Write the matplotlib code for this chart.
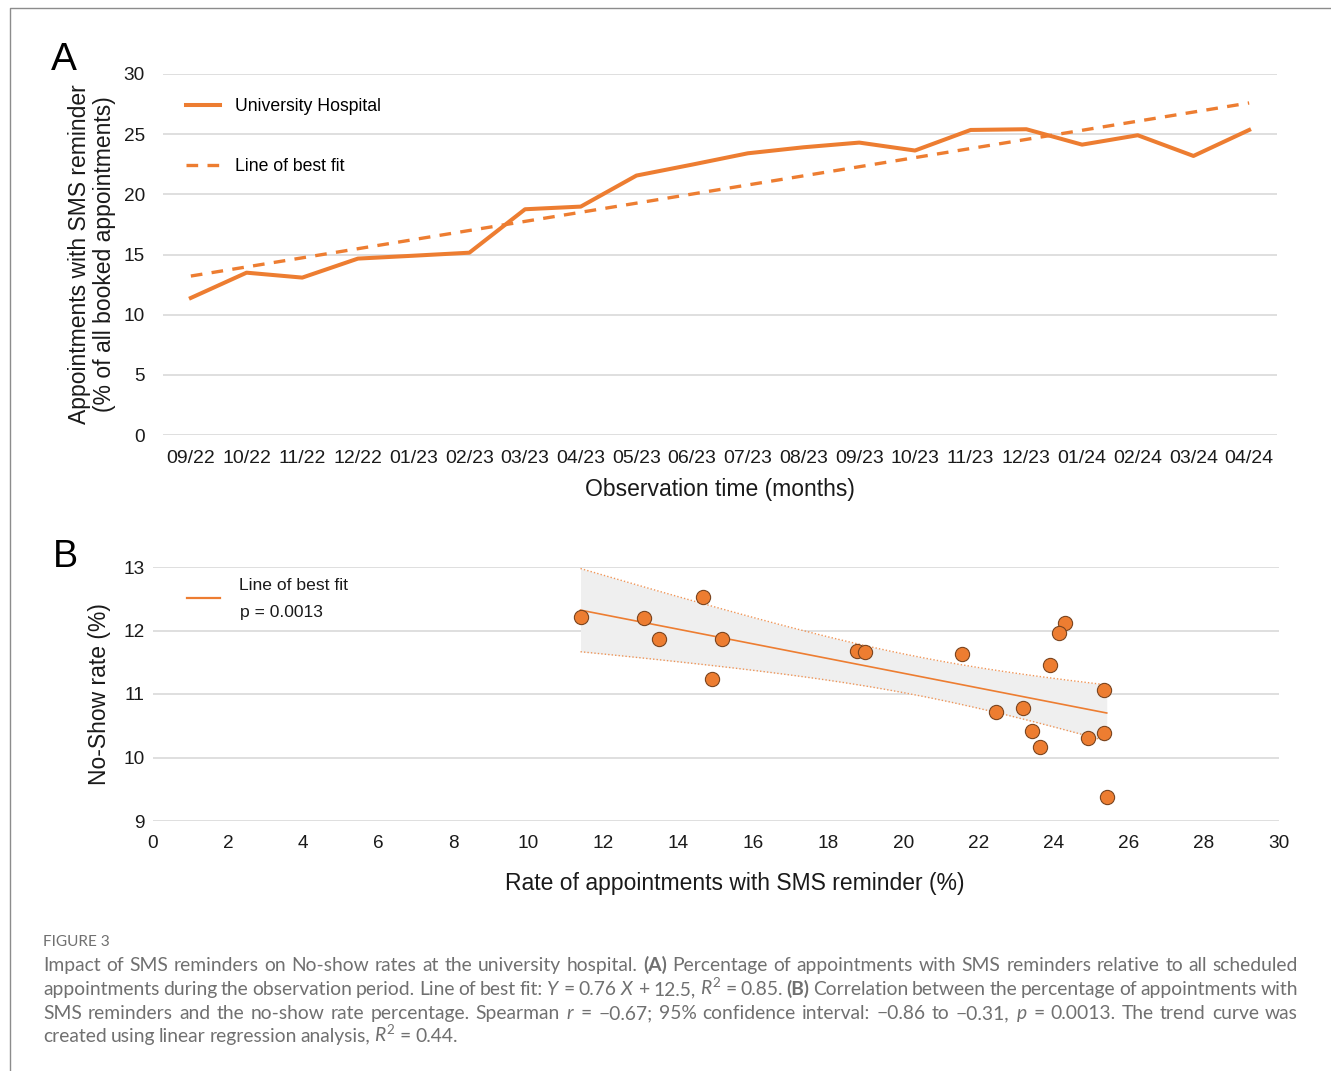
import numpy as np
import matplotlib.pyplot as plt
from matplotlib.lines import Line2D
from matplotlib.transforms import IdentityTransform

# monthly data
months = ["09/22", "10/22", "11/22", "12/22", "01/23", "02/23", "03/23", "04/23",
          "05/23", "06/23", "07/23", "08/23", "09/23", "10/23", "11/23", "12/23",
          "01/24", "02/24", "03/24", "04/24"]
sms_rate = [11.39, 13.49, 13.08, 14.66, 14.90, 15.15, 18.76, 18.98, 21.56, 22.47,
            23.41, 23.91, 24.30, 23.64, 25.35, 25.41, 24.13, 24.91, 23.19, 25.35]
no_show = [12.22, 11.87, 12.19, 12.52, 11.23, 11.86, 11.67, 11.66, 11.63, 10.71,
           10.41, 11.45, 12.12, 10.17, 11.07, 9.38, 11.96, 10.30, 10.78, 10.39]

orange = "#ED7D31"
grid_col = "#d9d9d9"
txt_col = "#1a1a1a"
cap_col = "#707070"

plt.rcParams['font.family'] = ['Liberation Sans', 'DejaVu Sans']
plt.rcParams['mathtext.fontset'] = 'custom'
plt.rcParams['mathtext.rm'] = 'Lato'
plt.rcParams['mathtext.it'] = 'Lato:italic'
plt.rcParams['mathtext.bf'] = 'Lato:bold'

W, H = 1331, 1071
fig = plt.figure(figsize=(W / 100, H / 100), dpi=100)
px = IdentityTransform()


def frac(px_left, px_top, px_right, px_bottom):
    return [px_left / W, 1 - px_bottom / H, (px_right - px_left) / W, (px_bottom - px_top) / H]


def clean(ax):
    for s in ax.spines.values():
        s.set_visible(False)
    ax.tick_params(length=0, colors=txt_col)
    ax.grid(axis='y', color=grid_col, lw=1.2)
    ax.set_axisbelow(True)


# ---------- panel A ----------
axA = fig.add_axes(frac(163, 74, 1277, 435))
x = np.arange(len(months))
slope, icpt = np.polyfit(x + 1, sms_rate, 1)
axA.plot(x, sms_rate, color=orange, lw=2.9, label="University Hospital")
axA.plot(x, slope * (x + 1) + icpt, color=orange, lw=2.4, ls=(0, (3.5, 2.8)),
         label="Line of best fit")
axA.set_xlim(-0.5, len(months) - 0.5)
axA.set_ylim(0, 30)
axA.set_yticks(range(0, 31, 5))
axA.set_xticks(x)
axA.set_xticklabels(months)
clean(axA)
axA.tick_params(axis='y', pad=13, labelsize=13.7)
axA.tick_params(axis='x', pad=11, labelsize=14)
axA.set_xlabel("Observation time (months)", fontsize=16.5, color=txt_col)
axA.xaxis.set_label_coords(0.5, -0.118)
axA.set_ylabel("Appointments with SMS reminder\n(% of all booked appointments)",
               fontsize=16.5, color=txt_col, linespacing=1.1)
axA.yaxis.set_label_coords(-0.042, 0.5)
axA.legend(loc='upper left', bbox_to_anchor=(0.021, 0.934), frameon=False,
           fontsize=12.7, handlelength=1.9, handletextpad=0.85, labelspacing=2.45,
           borderpad=0, borderaxespad=0)

# ---------- panel B ----------
axB = fig.add_axes(frac(153, 567, 1279, 821))
b1, b0 = np.polyfit(sms_rate, no_show, 1)
xs = np.array(sms_rate)
ys = np.array(no_show)
n = len(xs)
resid = ys - (b1 * xs + b0)
s_err = np.sqrt(np.sum(resid ** 2) / (n - 2))
xfit = np.linspace(xs.min(), xs.max(), 100)
yfit = b1 * xfit + b0
half = 2.101 * s_err * np.sqrt(1 / n + (xfit - xs.mean()) ** 2 / np.sum((xs - xs.mean()) ** 2))
axB.fill_between(xfit, yfit - half, yfit + half, color="#efefef", lw=0, zorder=1)
axB.plot(xfit, yfit + half, color=orange, lw=1, ls=(0, (1, 1.5)), alpha=0.8, zorder=2)
axB.plot(xfit, yfit - half, color=orange, lw=1, ls=(0, (1, 1.5)), alpha=0.8, zorder=2)
axB.plot(xfit, yfit, color=orange, lw=1.2, zorder=3)
axB.scatter(xs, ys, s=105, color=orange, edgecolor="#7a4520", linewidth=0.8, zorder=4)
axB.set_xlim(0, 30)
axB.set_ylim(9, 13)
axB.set_xticks(range(0, 31, 2))
axB.set_yticks(range(9, 14))
clean(axB)
axB.tick_params(axis='y', pad=6, labelsize=13.7)
axB.tick_params(axis='x', pad=10, labelsize=13.7)
axB.set_xlabel("Rate of appointments with SMS reminder (%)", fontsize=16.5, color=txt_col)
axB.xaxis.set_label_coords(0.517, -0.2)
axB.set_ylabel("No-Show rate (%)", fontsize=16.5, color=txt_col)
axB.yaxis.set_label_coords(-0.037, 0.5)

# legend of panel B (handle + two text lines)
fig.add_artist(Line2D([187, 220], [H - 598, H - 598], transform=px, color=orange, lw=1.6))
fig.text(239, H - 586, "Line of best fit", fontsize=12.6, color=txt_col,
         va='center', ha='left', transform=px)
fig.text(240, H - 613, "p = 0.0013", fontsize=12.6, color=txt_col,
         va='center', ha='left', transform=px)

# panel letters
fig.text(64 / W, 1 - 60 / H, "A", fontsize=28, ha='center', va='center', color='black')
fig.text(65 / W, 1 - 557 / H, "B", fontsize=27, ha='center', va='center', color='black')

# frame lines
fig.add_artist(Line2D([10 / W, 10 / W, 1], [0, 1 - 8 / H, 1 - 8 / H],
                      transform=fig.transFigure, color="#8c8c8c", lw=1))

# ---------- caption ----------
caption = [
    "Impact of SMS reminders on No-show rates at the university hospital. **(A) Percentage of "
    "appointments with SMS reminders relative to all scheduled",
    "appointments during the observation period. Line of best fit: $Y$ = 0.76 $X$ + 12.5, "
    "$R^{\\mathrm{2}}$ = 0.85. **(B) Correlation between the percentage of appointments with",
    "SMS reminders and the no-show rate percentage. Spearman $r$ = \u22120.67; 95% confidence "
    "interval: \u22120.86 to \u22120.31, $p$ = 0.0013. The trend curve was",
    "created using linear regression analysis, $R^{\\mathrm{2}}$ = 0.44.",
]
baselines = [971, 995, 1019, 1042]
x0, x1 = 43, 1298

renderer = fig.canvas.get_renderer()
cap_font = ['Lato', 'DejaVu Sans']

# size so that the last (unjustified) line is as wide as in the original
probe = fig.text(0, 0, caption[3].replace("$R^{\\mathrm{2}}$", "R2"), fontsize=12,
                 family=cap_font, transform=px)
size = 12 * 423 / probe.get_window_extent(renderer).width
probe.remove()

for line, yb in zip(caption, baselines):
    words = line.split(" ")
    items = []
    for w in words:
        bold = w.startswith("**")
        s = w[2:] if bold else w
        t = fig.text(0, H - yb, s, fontsize=size, family=cap_font, color=cap_col,
                     fontweight='bold' if bold else 'normal', va='baseline', ha='left',
                     transform=px)
        items.append(t)
    widths = [t.get_window_extent(renderer).width for t in items]
    space = size * 100 / 72 * 0.2
    if line is not caption[-1]:
        space = (x1 - x0 - sum(widths)) / (len(items) - 1)
    pos = x0
    for t, wd in zip(items, widths):
        t.set_x(pos)
        pos += wd + space

fig.text(43, H - 946, "FIGURE 3", fontsize=size * 0.8, family=cap_font, color=cap_col,
         va='baseline', ha='left', transform=px)

fig.savefig("out.png", dpi=100)
